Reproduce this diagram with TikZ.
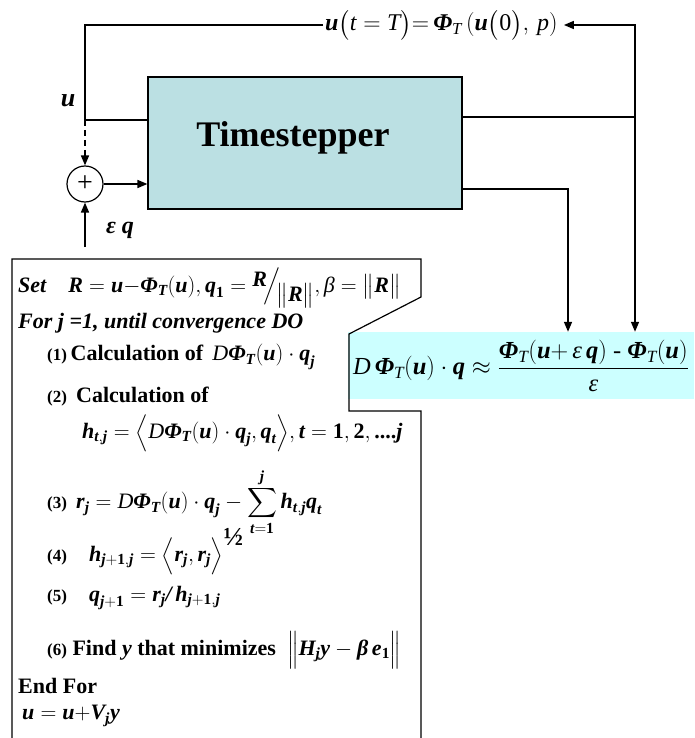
\RequirePackage{fix-cm}
\documentclass[tikz,border=0pt]{standalone}
\usepackage{amsmath}
\usepackage{fontspec}
\setmainfont{Liberation Serif}
\usetikzlibrary{arrows.meta,calc}
\definecolor{tsfill}{RGB}{187,224,227}
\definecolor{fdfill}{RGB}{204,255,255}
\newcommand\bv[1]{\text{\normalfont\bfseries\itshape #1}}
\newcommand\iv[1]{\text{\normalfont\itshape #1}}
\newcommand\rv[1]{\text{\normalfont #1}}
\newcommand\bu[1]{\text{\normalfont\bfseries #1}}
\newcommand\PhiT[1]{\bv{Φ}_{#1}}
\newcommand\num[1]{{\bfseries\fontsize{17}{20}\selectfont(#1)}}
\begin{document}
\begin{tikzpicture}[x=1pt,y=-1pt,
  conn/.style={line width=1.6pt},
  arr/.style={conn,-{Triangle[length=10pt,width=8pt]}},
  txt/.style={inner sep=0pt,anchor=west,font=\fontsize{22}{26}\selectfont},
  outl/.style={line width=1.2pt}]
\useasboundingbox (0,0) rectangle (694,738);
\fill[white] (0,0) rectangle (694,738);
% formula box
\node[fill=fdfill,minimum width=346pt,minimum height=67pt,inner sep=0pt] (fd) at (521,365.5) {};
% algorithm outline
\draw[outl] (12,745) -- (12,259) -- (421,259) -- (421,297) -- (349,334) -- (349,411) -- (421,411) -- (421,745);
% timestepper
\node[draw=black,outl,fill=tsfill,minimum width=314pt,minimum height=132pt,inner sep=0pt] (ts) at (305,143) {};
\node[inner sep=0pt,font=\bfseries\fontsize{36}{42}\selectfont] (tslabel) at (293,138) {Timestepper};
% plus
\node[circle,draw,outl,minimum size=36pt,inner sep=0pt,font=\fontsize{28}{30}\selectfont] (plus) at (85,184) {\raisebox{0.5pt}{+}};
% labels
\node[inner sep=0pt,font=\bfseries\itshape\fontsize{26}{28}\selectfont] (ulab) at (68,101) {u};
\node[inner sep=0pt,font=\bfseries\itshape\fontsize{24}{28}\selectfont] (eqlab) at (120,230) {ε q};
% top formula
\node[inner xsep=2pt,inner ysep=0pt,anchor=west,font=\fontsize{24}{28}\selectfont] (topf) at (323,25)
  {$\bv{u}\bigl(\iv{t} = \iv{T}\bigr){=}\,\PhiT{\iv{T}}\,(\bv{u}\bigl(\rv{0}\bigr),\, \iv{p})$};
% connectors
\coordinate (jR) at (635,117);
\coordinate (jL) at (85,120);
\coordinate (j2) at (568,189);
\coordinate (eqs) at (85,247);
\draw[conn] (ts.east |- jR) -- (jR);
\draw[arr] (jR) |- ($(topf.east)+(4,0)$);
\draw[arr] (jR) -- (jR |- fd.north);
\draw[arr] (ts.east |- j2) -| (j2 |- fd.north);
\draw[conn] (topf.west) -| (jL) -- (ts.west |- jL);
\draw[arr,dash pattern=on 6pt off 4pt] (jL) -- (plus.north);
\draw[arr] (plus.east) -- (plus.east -| ts.west);
\draw[arr] (eqs) -- (plus.south);
% finite difference formula
\node[inner sep=0pt,font=\fontsize{24.5}{28}\selectfont] (fdtext) at (521,366)
  {$\iv{D}\,\PhiT{\iv{T}}(\bv{u})\cdot\bv{q} \approx \dfrac{\PhiT{\iv{T}}(\bv{u}{+}\,\iv{ε}\,\bv{q})\text{ - }\PhiT{\iv{T}}(\bv{u})}{\iv{ε}}$};
% algorithm text
\node[txt] (l0) at (18,288) {\bfseries\itshape Set\quad $\bv{R} = \bv{u}{-}\PhiT{\bv{T}}(\bv{u}), \bv{q}_{\bu{1}} = \raisebox{0.6ex}{$\bv{R}$}\!\Big/\!\raisebox{-0.9ex}{$\big\|\bv{R}\big\|$}, \iv{β} = \big\|\bv{R}\big\|$};
\node[txt] (l1) at (18,323) {\bfseries\itshape For j =1, until convergence DO};
\node[txt] (l2) at (47,357) {\num{1}\,\bfseries Calculation of\, $\iv{D}\PhiT{\bv{T}}(\bv{u})\cdot\bv{q}_{\bv{j}}$};
\node[txt] (l3) at (47,397) {\num{2}\, \bfseries Calculation of};
\node[txt] (l4) at (82,433) {$\bv{h}_{\bv{t},\bv{j}} = \Big\langle \iv{D}\PhiT{\bv{T}}(\bv{u})\cdot\bv{q}_{\bv{j}}, \bv{q}_{\bv{t}}\Big\rangle, \bv{t} = \bu{1}, \bu{2},\bu{....}\bv{j}$};
\node[txt] (l5) at (47,502) {\num{3}\, $\displaystyle\bv{r}_{\bv{j}} = \iv{D}\PhiT{\bv{T}}(\bv{u})\cdot\bv{q}_{\bv{j}} - \sum_{\bv{t}=\bu{1}}^{\bv{j}} \bv{h}_{\bv{t},\bv{j}}\bv{q}_{\bv{t}}$};
\node[txt] (l6) at (47,552) {\num{4}\quad $\bv{h}_{\bv{j}+\bu{1},\bv{j}} = \Big\langle \bv{r}_{\bv{j}}, \bv{r}_{\bv{j}}\Big\rangle$\raisebox{1.6ex}{\bfseries\fontsize{26}{26}\selectfont ½}};
\node[txt] (l7) at (47,598) {\num{5}\quad $\bv{q}_{\bv{j}+\bu{1}} = \bv{r}_{\bv{j}} \bv{/}\, \bv{h}_{\bv{j}+\bu{1},\bv{j}}$};
\node[txt] (l8) at (47,650) {\num{6} \bfseries Find \bv{y} that minimizes\ \ $\Big\|\bv{H}_{\bv{j}}\bv{y} - \bv{β}\,\bv{e}_{\bu{1}}\Big\|$};
\node[txt] (l9) at (18,686) {\bfseries End For};
\node[txt] (l10) at (22,716) {$\bv{u} = \bv{u}{+}\bv{V}_{\bv{j}}\bv{y}$};
\end{tikzpicture}
\end{document}
